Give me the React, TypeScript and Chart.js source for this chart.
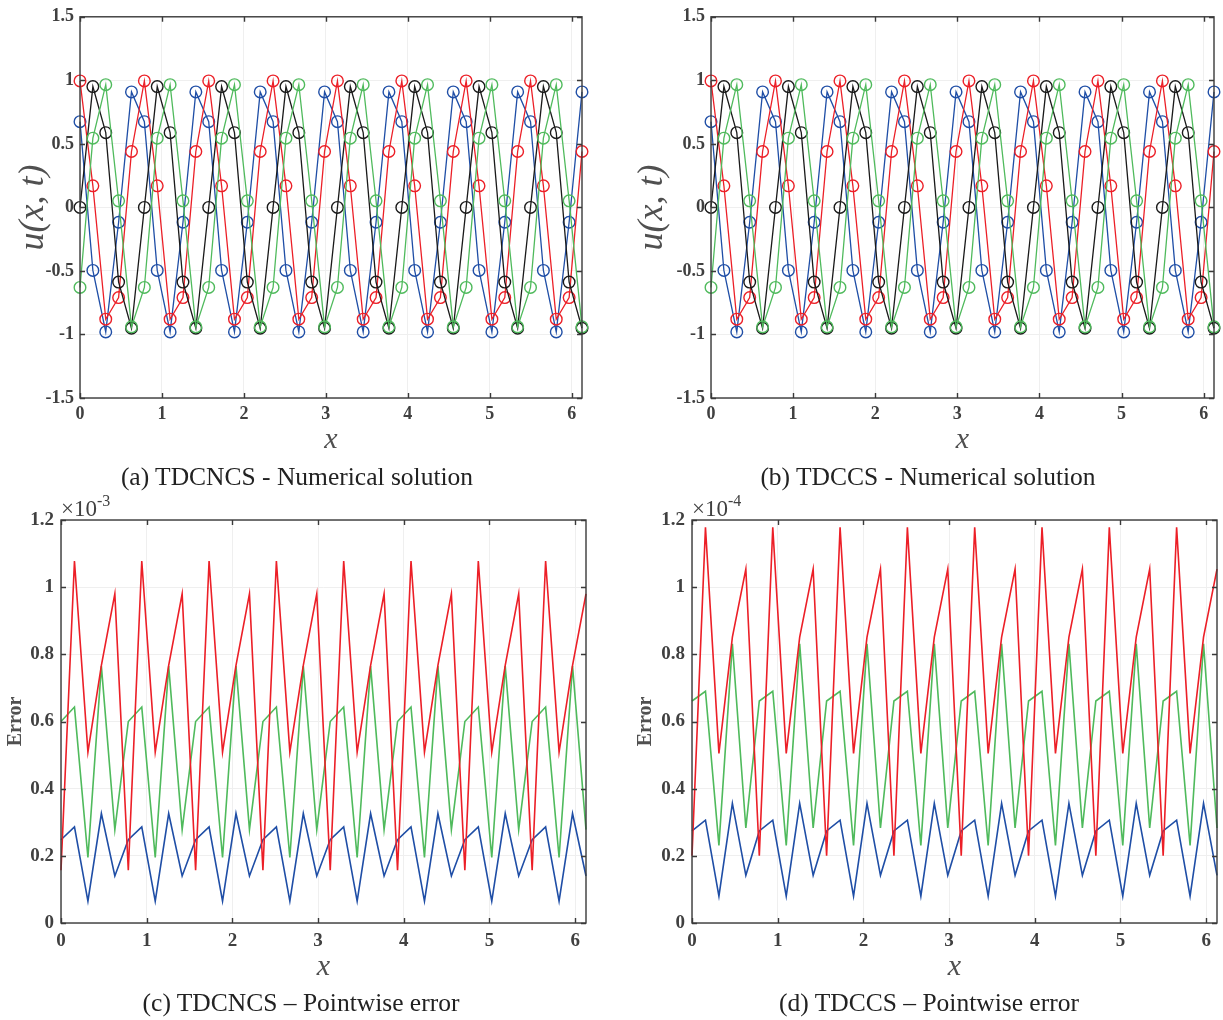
import React, { useEffect, useRef } from "react";
import { Chart, registerables } from "chart.js";

Chart.register(...registerables);

const FONT = '"Liberation Serif", "Times New Roman", Times, serif';
const AXIS_COLOR = "#3a3a3a";
const TICK_COLOR = "#404040";
const LABEL_COLOR = "#505050";
const GRID_COLOR = "#efefef";

const BLUE = "#1f4ea6";
const RED = "#ec1f27";
const BLACK = "#1a1a1a";
const GREEN = "#4fba5c";

// grid points x_j = j * 2pi/40
const xGrid = [
  0, 0.1571, 0.3142, 0.4712, 0.6283, 0.7854, 0.9425, 1.0996, 1.2566, 1.4137,
  1.5708, 1.7279, 1.885, 2.042, 2.1991, 2.3562, 2.5133, 2.6704, 2.8274, 2.9845,
  3.1416, 3.2987, 3.4558, 3.6128, 3.7699, 3.927, 4.0841, 4.2412, 4.3982, 4.5553,
  4.7124, 4.8695, 5.0265, 5.1836, 5.3407, 5.4978, 5.6549, 5.8119, 5.969, 6.1261,
];

const xTicks = [0, 1, 2, 3, 4, 5, 6];
const solTicks = [-1.5, -1, -0.5, 0, 0.5, 1, 1.5];
const errTicks = [0, 0.2, 0.4, 0.6, 0.8, 1, 1.2];

// (a) TDCNCS numerical solution
const aBlue = [
  0.675, -0.496, -0.98, -0.117, 0.909,
  0.675, -0.496, -0.98, -0.117, 0.909,
  0.675, -0.496, -0.98, -0.117, 0.909,
  0.675, -0.496, -0.98, -0.117, 0.909,
  0.675, -0.496, -0.98, -0.117, 0.909,
  0.675, -0.496, -0.98, -0.117, 0.909,
  0.675, -0.496, -0.98, -0.117, 0.909,
  0.675, -0.496, -0.98, -0.117, 0.909,
];
const aRed = [
  0.995, 0.17, -0.88, -0.71, 0.44,
  0.995, 0.17, -0.88, -0.71, 0.44,
  0.995, 0.17, -0.88, -0.71, 0.44,
  0.995, 0.17, -0.88, -0.71, 0.44,
  0.995, 0.17, -0.88, -0.71, 0.44,
  0.995, 0.17, -0.88, -0.71, 0.44,
  0.995, 0.17, -0.88, -0.71, 0.44,
  0.995, 0.17, -0.88, -0.71, 0.44,
];
const aBlack = [
  0, 0.951, 0.588, -0.588, -0.951,
  0, 0.951, 0.588, -0.588, -0.951,
  0, 0.951, 0.588, -0.588, -0.951,
  0, 0.951, 0.588, -0.588, -0.951,
  0, 0.951, 0.588, -0.588, -0.951,
  0, 0.951, 0.588, -0.588, -0.951,
  0, 0.951, 0.588, -0.588, -0.951,
  0, 0.951, 0.588, -0.588, -0.951,
];
const aGreen = [
  -0.63, 0.545, 0.966, 0.052, -0.94,
  -0.63, 0.545, 0.966, 0.052, -0.94,
  -0.63, 0.545, 0.966, 0.052, -0.94,
  -0.63, 0.545, 0.966, 0.052, -0.94,
  -0.63, 0.545, 0.966, 0.052, -0.94,
  -0.63, 0.545, 0.966, 0.052, -0.94,
  -0.63, 0.545, 0.966, 0.052, -0.94,
  -0.63, 0.545, 0.966, 0.052, -0.94,
];

// (b) TDCCS numerical solution
const bBlue = [
  0.675, -0.496, -0.98, -0.117, 0.909,
  0.675, -0.496, -0.98, -0.117, 0.909,
  0.675, -0.496, -0.98, -0.117, 0.909,
  0.675, -0.496, -0.98, -0.117, 0.909,
  0.675, -0.496, -0.98, -0.117, 0.909,
  0.675, -0.496, -0.98, -0.117, 0.909,
  0.675, -0.496, -0.98, -0.117, 0.909,
  0.675, -0.496, -0.98, -0.117, 0.909,
];
const bRed = [
  0.995, 0.17, -0.88, -0.71, 0.44,
  0.995, 0.17, -0.88, -0.71, 0.44,
  0.995, 0.17, -0.88, -0.71, 0.44,
  0.995, 0.17, -0.88, -0.71, 0.44,
  0.995, 0.17, -0.88, -0.71, 0.44,
  0.995, 0.17, -0.88, -0.71, 0.44,
  0.995, 0.17, -0.88, -0.71, 0.44,
  0.995, 0.17, -0.88, -0.71, 0.44,
];
const bBlack = [
  0, 0.951, 0.588, -0.588, -0.951,
  0, 0.951, 0.588, -0.588, -0.951,
  0, 0.951, 0.588, -0.588, -0.951,
  0, 0.951, 0.588, -0.588, -0.951,
  0, 0.951, 0.588, -0.588, -0.951,
  0, 0.951, 0.588, -0.588, -0.951,
  0, 0.951, 0.588, -0.588, -0.951,
  0, 0.951, 0.588, -0.588, -0.951,
];
const bGreen = [
  -0.63, 0.545, 0.966, 0.052, -0.94,
  -0.63, 0.545, 0.966, 0.052, -0.94,
  -0.63, 0.545, 0.966, 0.052, -0.94,
  -0.63, 0.545, 0.966, 0.052, -0.94,
  -0.63, 0.545, 0.966, 0.052, -0.94,
  -0.63, 0.545, 0.966, 0.052, -0.94,
  -0.63, 0.545, 0.966, 0.052, -0.94,
  -0.63, 0.545, 0.966, 0.052, -0.94,
];

// (c) TDCNCS pointwise error, units of 1e-3
const cRed = [
  0.157, 1.078, 0.509, 0.767, 0.98,
  0.157, 1.078, 0.509, 0.767, 0.98,
  0.157, 1.078, 0.509, 0.767, 0.98,
  0.157, 1.078, 0.509, 0.767, 0.98,
  0.157, 1.078, 0.509, 0.767, 0.98,
  0.157, 1.078, 0.509, 0.767, 0.98,
  0.157, 1.078, 0.509, 0.767, 0.98,
  0.157, 1.078, 0.509, 0.767, 0.98,
];
const cGreen = [
  0.6, 0.643, 0.195, 0.765, 0.278,
  0.6, 0.643, 0.195, 0.765, 0.278,
  0.6, 0.643, 0.195, 0.765, 0.278,
  0.6, 0.643, 0.195, 0.765, 0.278,
  0.6, 0.643, 0.195, 0.765, 0.278,
  0.6, 0.643, 0.195, 0.765, 0.278,
  0.6, 0.643, 0.195, 0.765, 0.278,
  0.6, 0.643, 0.195, 0.765, 0.278,
];
const cBlue = [
  0.248, 0.286, 0.065, 0.326, 0.14,
  0.248, 0.286, 0.065, 0.326, 0.14,
  0.248, 0.286, 0.065, 0.326, 0.14,
  0.248, 0.286, 0.065, 0.326, 0.14,
  0.248, 0.286, 0.065, 0.326, 0.14,
  0.248, 0.286, 0.065, 0.326, 0.14,
  0.248, 0.286, 0.065, 0.326, 0.14,
  0.248, 0.286, 0.065, 0.326, 0.14,
];

// (d) TDCCS pointwise error, units of 1e-4
const dRed = [
  0.2, 1.178, 0.505, 0.851, 1.054,
  0.2, 1.178, 0.505, 0.851, 1.054,
  0.2, 1.178, 0.505, 0.851, 1.054,
  0.2, 1.178, 0.505, 0.851, 1.054,
  0.2, 1.178, 0.505, 0.851, 1.054,
  0.2, 1.178, 0.505, 0.851, 1.054,
  0.2, 1.178, 0.505, 0.851, 1.054,
  0.2, 1.178, 0.505, 0.851, 1.054,
];
const dGreen = [
  0.661, 0.69, 0.231, 0.831, 0.283,
  0.661, 0.69, 0.231, 0.831, 0.283,
  0.661, 0.69, 0.231, 0.831, 0.283,
  0.661, 0.69, 0.231, 0.831, 0.283,
  0.661, 0.69, 0.231, 0.831, 0.283,
  0.661, 0.69, 0.231, 0.831, 0.283,
  0.661, 0.69, 0.231, 0.831, 0.283,
  0.661, 0.69, 0.231, 0.831, 0.283,
];
const dBlue = [
  0.274, 0.306, 0.08, 0.356, 0.142,
  0.274, 0.306, 0.08, 0.356, 0.142,
  0.274, 0.306, 0.08, 0.356, 0.142,
  0.274, 0.306, 0.08, 0.356, 0.142,
  0.274, 0.306, 0.08, 0.356, 0.142,
  0.274, 0.306, 0.08, 0.356, 0.142,
  0.274, 0.306, 0.08, 0.356, 0.142,
  0.274, 0.306, 0.08, 0.356, 0.142,
];

const TICK_LEN = 5;

const boxPlugin = {
  id: "matlabBox",
  afterDatasetsDraw(chart: any) {
    const { ctx, chartArea, scales } = chart;
    const { left, right, top, bottom } = chartArea;
    const xs = scales.x;
    const ys = scales.y;
    ctx.save();
    ctx.strokeStyle = AXIS_COLOR;
    ctx.lineWidth = 1.4;
    ctx.beginPath();
    xs.ticks.forEach((t: any) => {
      const p = Math.round(xs.getPixelForValue(t.value)) + 0.5;
      ctx.moveTo(p, bottom);
      ctx.lineTo(p, bottom - TICK_LEN);
      ctx.moveTo(p, top);
      ctx.lineTo(p, top + TICK_LEN);
    });
    ys.ticks.forEach((t: any) => {
      const p = Math.round(ys.getPixelForValue(t.value)) + 0.5;
      ctx.moveTo(left, p);
      ctx.lineTo(left + TICK_LEN, p);
      ctx.moveTo(right, p);
      ctx.lineTo(right - TICK_LEN, p);
    });
    ctx.stroke();
    ctx.strokeRect(left, top, right - left, bottom - top);
    ctx.restore();
  },
};

type Series = { data: number[]; color: string };

type PanelSpec = {
  left: number;
  top: number;
  width: number;
  height: number;
  padTop: number;
  padRight: number;
  yAxisW: number;
  xAxisH: number;
  series: Series[];
  markers: boolean;
  yMin: number;
  yMax: number;
  yTicks: number[];
  tickSize: number;
  xTickPad: number;
  yTickPad: number;
  yTitle: string;
  yTitleFont: any;
  yTitlePad: number;
  xTitlePad: number;
};

function buildConfig(s: PanelSpec): any {
  const datasets = s.series.map((ser) => ({
    data: xGrid.map((x, i) => ({ x, y: ser.data[i] })),
    borderColor: ser.color,
    backgroundColor: ser.color,
    borderWidth: s.markers ? 1.3 : 1.6,
    pointRadius: s.markers ? 5.8 : 0,
    pointStyle: "circle",
    pointBackgroundColor: "rgba(0,0,0,0)",
    pointBorderColor: ser.color,
    pointBorderWidth: 1.4,
    fill: false,
    tension: 0,
    clip: false,
  }));
  const tickFont = { family: FONT, weight: "bold", size: s.tickSize };
  return {
    type: "line",
    data: { datasets },
    plugins: [boxPlugin],
    options: {
      animation: false,
      responsive: false,
      maintainAspectRatio: false,
      devicePixelRatio: 1,
      events: [],
      layout: { padding: { left: 0, top: s.padTop, right: s.padRight, bottom: 0 } },
      plugins: { legend: { display: false }, tooltip: { enabled: false } },
      scales: {
        x: {
          type: "linear",
          min: 0,
          max: xGrid[xGrid.length - 1],
          afterBuildTicks: (sc: any) => {
            sc.ticks = xTicks.map((v) => ({ value: v }));
          },
          afterFit: (sc: any) => {
            sc.height = s.xAxisH;
          },
          grid: { color: GRID_COLOR, drawTicks: false, lineWidth: 1 },
          border: { display: false },
          ticks: {
            font: tickFont,
            color: TICK_COLOR,
            padding: s.xTickPad,
            maxRotation: 0,
            autoSkip: false,
            callback: (v: any) => String(v),
          },
          title: {
            display: true,
            text: "x",
            font: { family: FONT, style: "italic", size: 30 },
            color: LABEL_COLOR,
            padding: { top: 0, bottom: s.xTitlePad },
          },
        },
        y: {
          type: "linear",
          min: s.yMin,
          max: s.yMax,
          afterBuildTicks: (sc: any) => {
            sc.ticks = s.yTicks.map((v) => ({ value: v }));
          },
          afterFit: (sc: any) => {
            sc.width = s.yAxisW;
          },
          grid: { color: GRID_COLOR, drawTicks: false, lineWidth: 1 },
          border: { display: false },
          ticks: {
            font: tickFont,
            color: TICK_COLOR,
            padding: s.yTickPad,
            autoSkip: false,
            callback: (v: any) => String(v),
          },
          title: {
            display: true,
            text: s.yTitle,
            font: s.yTitleFont,
            color: LABEL_COLOR,
            padding: { top: s.yTitlePad, bottom: 0 },
          },
        },
      },
    },
  };
}

function Panel({ spec }: { spec: PanelSpec }) {
  const ref = useRef<HTMLCanvasElement>(null);
  useEffect(() => {
    const chart = new Chart(ref.current as HTMLCanvasElement, buildConfig(spec));
    return () => chart.destroy();
  }, []);
  return (
    <canvas
      ref={ref}
      width={spec.width}
      height={spec.height}
      style={{
        position: "absolute",
        left: spec.left,
        top: spec.top,
        width: spec.width,
        height: spec.height,
      }}
    />
  );
}

const solTitleFont = { family: FONT, style: "italic", size: 36 };
const errTitleFont = { family: FONT, weight: "bold", size: 20 };

const panelA: PanelSpec = {
  left: 0, top: 0, width: 611, height: 470,
  padTop: 13, padRight: 29, yAxisW: 80, xAxisH: 72,
  series: [
    { data: aGreen, color: GREEN },
    { data: aBlack, color: BLACK },
    { data: aRed, color: RED },
    { data: aBlue, color: BLUE },
  ],
  markers: true, yMin: -1.5, yMax: 1.5, yTicks: solTicks,
  tickSize: 18, xTickPad: 6, yTickPad: 6,
  yTitle: "u(x, t)", yTitleFont: solTitleFont, yTitlePad: 12, xTitlePad: 12,
};

const panelB: PanelSpec = {
  left: 611, top: 0, width: 612, height: 470,
  padTop: 13, padRight: 9, yAxisW: 100, xAxisH: 72,
  series: [
    { data: bGreen, color: GREEN },
    { data: bBlack, color: BLACK },
    { data: bRed, color: RED },
    { data: bBlue, color: BLUE },
  ],
  markers: true, yMin: -1.5, yMax: 1.5, yTicks: solTicks,
  tickSize: 18, xTickPad: 6, yTickPad: 6,
  yTitle: "u(x, t)", yTitleFont: solTitleFont, yTitlePad: 20, xTitlePad: 12,
};

const panelC: PanelSpec = {
  left: 0, top: 500, width: 611, height: 490,
  padTop: 20, padRight: 25, yAxisW: 61, xAxisH: 67,
  series: [
    { data: cRed, color: RED },
    { data: cGreen, color: GREEN },
    { data: cBlue, color: BLUE },
  ],
  markers: false, yMin: 0, yMax: 1.2, yTicks: errTicks,
  tickSize: 19, xTickPad: 7, yTickPad: 7,
  yTitle: "Error", yTitleFont: errTitleFont, yTitlePad: 4, xTitlePad: 5,
};

const panelD: PanelSpec = {
  left: 611, top: 500, width: 612, height: 490,
  padTop: 20, padRight: 6, yAxisW: 81, xAxisH: 67,
  series: [
    { data: dRed, color: RED },
    { data: dGreen, color: GREEN },
    { data: dBlue, color: BLUE },
  ],
  markers: false, yMin: 0, yMax: 1.2, yTicks: errTicks,
  tickSize: 19, xTickPad: 7, yTickPad: 7,
  yTitle: "Error", yTitleFont: errTitleFont, yTitlePad: 23, xTitlePad: 5,
};

const captions = [
  { text: "(a) TDCNCS - Numerical solution", cx: 297, top: 462 },
  { text: "(b) TDCCS - Numerical solution", cx: 928, top: 462 },
  { text: "(c) TDCNCS \u2013 Pointwise error", cx: 301, top: 988 },
  { text: "(d) TDCCS \u2013 Pointwise error", cx: 929, top: 988 },
];

const exponents = [
  { base: "\u00d710", exp: "-3", left: 61, top: 497 },
  { base: "\u00d710", exp: "-4", left: 692, top: 497 },
];

export default function App() {
  return (
    <div
      style={{
        position: "absolute",
        left: 0,
        top: 0,
        width: 1223,
        height: 1020,
        background: "#ffffff",
        overflow: "hidden",
      }}
    >
      <Panel spec={panelA} />
      <Panel spec={panelB} />
      <Panel spec={panelC} />
      <Panel spec={panelD} />
      {captions.map((c) => (
        <div
          key={c.text}
          style={{
            position: "absolute",
            left: c.cx - 250,
            top: c.top,
            width: 500,
            textAlign: "center",
            fontFamily: FONT,
            fontSize: 25.5,
            lineHeight: "30px",
            color: "#222222",
            whiteSpace: "nowrap",
          }}
        >
          {c.text}
        </div>
      ))}
      {exponents.map((e) => (
        <div
          key={e.exp}
          style={{
            position: "absolute",
            left: e.left,
            top: e.top,
            fontFamily: FONT,
            fontSize: 23,
            lineHeight: "24px",
            color: TICK_COLOR,
            whiteSpace: "nowrap",
          }}
        >
          {e.base}
          <span style={{ fontSize: 16, position: "relative", top: -10 }}>{e.exp}</span>
        </div>
      ))}
    </div>
  );
}
